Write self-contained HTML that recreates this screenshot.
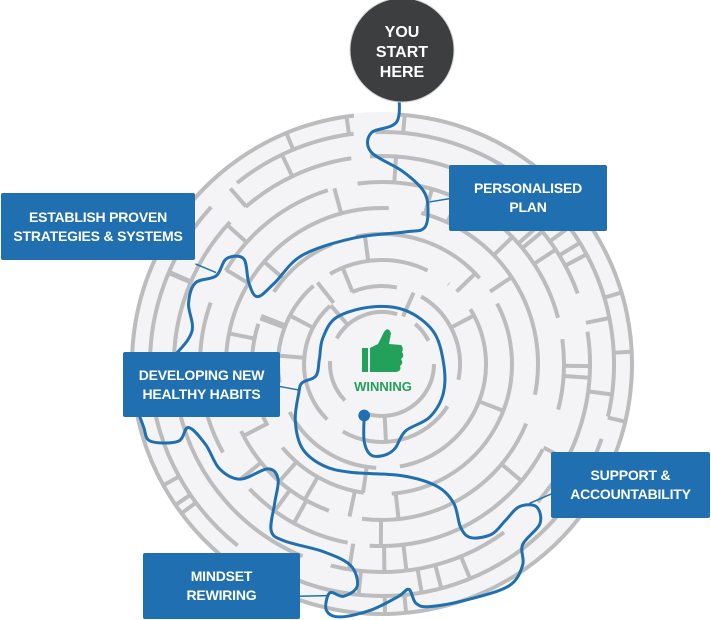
<!DOCTYPE html>
<html><head><style>
html,body{margin:0;padding:0;background:#fff;}
body{width:711px;height:620px;position:relative;overflow:hidden;font-family:"Liberation Sans",sans-serif;}
.box{position:absolute;background:#1f6fb1;color:#fff;font-weight:bold;font-size:14px;line-height:19px;text-align:center;display:flex;align-items:center;justify-content:center;border-radius:2px;letter-spacing:-0.2px;}
</style></head><body>
<svg id="s" width="711" height="620" style="position:absolute;left:0;top:0">
<circle cx="382" cy="364" r="252" fill="#f4f4f6"/>
<g id="maze" stroke="#bcbcbc" stroke-width="4" fill="none" stroke-linecap="butt"></g>
<g transform="translate(130,90) scale(0.3444)">
<path id="bp" fill="none" stroke="#1f6fb1" stroke-width="3" vector-effect="non-scaling-stroke" stroke-linejoin="round" stroke-linecap="round"/>
<circle cx="680" cy="945" r="17" fill="#1f6fb1"/>
<line x1="870" y1="325" x2="930" y2="315" stroke="#1f6fb1" stroke-width="1.5" vector-effect="non-scaling-stroke"/>
<line x1="190" y1="505" x2="250" y2="530" stroke="#1f6fb1" stroke-width="1.5" vector-effect="non-scaling-stroke"/>
<line x1="430" y1="860" x2="495" y2="872" stroke="#1f6fb1" stroke-width="1.5" vector-effect="non-scaling-stroke"/>
<line x1="1160" y1="1200" x2="1230" y2="1170" stroke="#1f6fb1" stroke-width="1.5" vector-effect="non-scaling-stroke"/>
<line x1="490" y1="1470" x2="575" y2="1468" stroke="#1f6fb1" stroke-width="1.5" vector-effect="non-scaling-stroke"/>
</g>
<circle cx="402" cy="50" r="52" fill="#3d3e40" stroke="#d0d0d0" stroke-width="1"/>
<text x="402" y="37" fill="#fff" font-weight="bold" font-size="16" text-anchor="middle" font-family="Liberation Sans">YOU</text>
<text x="402" y="57" fill="#fff" font-weight="bold" font-size="16" text-anchor="middle" font-family="Liberation Sans">START</text>
<text x="402" y="77" fill="#fff" font-weight="bold" font-size="16" text-anchor="middle" font-family="Liberation Sans">HERE</text>
<g fill="#23a05a">
<rect x="362" y="348" width="6" height="24"/>
<path d="M370 348 L378 344 L384 332 Q388 326 391 333 L389 344 L401 345 Q404 348 402 352 Q405 356 401 359 Q404 363 400 366 Q402 371 396 372 L370 372 Z"/>
</g>
<text x="383" y="391" fill="#23a05a" font-weight="bold" font-size="13" text-anchor="middle" font-family="Liberation Sans">WINNING</text>
</svg>
<div class="box" style="left:1px;top:193px;width:194px;height:67px;">ESTABLISH PROVEN<br>STRATEGIES &amp; SYSTEMS</div>
<div class="box" style="left:449px;top:165px;width:158px;height:66px;">PERSONALISED<br>PLAN</div>
<div class="box" style="left:123px;top:352px;width:157px;height:65px;">DEVELOPING NEW<br>HEALTHY HABITS</div>
<div class="box" style="left:551px;top:452px;width:159px;height:66px;">SUPPORT &amp;<br>ACCOUNTABILITY</div>
<div class="box" style="left:143px;top:553px;width:157px;height:66px;">MINDSET<br>REWIRING</div>
<script>
(function(){
var g=document.getElementById('maze'),cx=382,cy=364,ns='http://www.w3.org/2000/svg';
var seed=7;function rnd(){seed=(seed*16807)%2147483647;return seed/2147483647;}
var radii=[52,78,104,130,156,182,208,232,250];
function arc(r,a1,a2){var p=document.createElementNS(ns,'path');
var x1=cx+r*Math.cos(a1),y1=cy+r*Math.sin(a1),x2=cx+r*Math.cos(a2),y2=cy+r*Math.sin(a2);
p.setAttribute('d','M'+x1+' '+y1+' A'+r+' '+r+' 0 '+((a2-a1)>Math.PI?1:0)+' 1 '+x2+' '+y2);g.appendChild(p);}
function rad(a,r1,r2){var l=document.createElementNS(ns,'line');
l.setAttribute('x1',cx+r1*Math.cos(a));l.setAttribute('y1',cy+r1*Math.sin(a));
l.setAttribute('x2',cx+r2*Math.cos(a));l.setAttribute('y2',cy+r2*Math.sin(a));g.appendChild(l);}
radii.forEach(function(r,i){
 var a=rnd()*6.28, end=a+6.28;
 if(i==radii.length-1){arc(r,-1.5,4.6);return;}
 while(a<end){var len=0.5+rnd()*1.6, gap=18/r+rnd()*0.15; var e=Math.min(a+len,end-gap);
  if(e>a)arc(r,a,e); a=e+gap;}
 if(i<radii.length-1){var n=Math.round(r/16);for(var k=0;k<n;k++){var an=rnd()*6.28;rad(an,r,radii[i+1]);}}
});
var pts=[778,-20,776,90,700,125,700,180,790,235,850,290,865,340,855,400,800,412,650,430,500,480,420,560,370,600,345,560,330,490,280,490,250,540,190,560,170,620,180,700,130,770,60,830,20,900,40,980,60,1020,140,1020,170,980,220,1030,260,1100,320,1130,400,1100,430,1130,420,1200,410,1280,450,1310,560,1340,640,1380,660,1440,620,1470,580,1460,570,1510,610,1530,700,1510,780,1470,810,1450,830,1490,870,1500,980,1480,1100,1440,1140,1380,1140,1320,1190,1260,1180,1210,1130,1210,1090,1250,1050,1290,990,1300,960,1270,940,1200,890,1150,790,1120,640,1110,560,1090,500,1040,480,960,490,880,500,850,540,830,550,780,560,720,600,660,700,630,800,640,880,700,910,790,910,880,870,950,800,990,770,1040,740,1060,700,1060,680,1020,680,945];
var P=[];for(var i=0;i<pts.length;i+=2)P.push([pts[i],pts[i+1]]);
var d='M'+P[0][0]+' '+P[0][1];
for(var i=0;i<P.length-1;i++){var p0=P[Math.max(i-1,0)],p1=P[i],p2=P[i+1],p3=P[Math.min(i+2,P.length-1)];
d+=' C'+(p1[0]+(p2[0]-p0[0])/6)+' '+(p1[1]+(p2[1]-p0[1])/6)+' '+(p2[0]-(p3[0]-p1[0])/6)+' '+(p2[1]-(p3[1]-p1[1])/6)+' '+p2[0]+' '+p2[1];}
document.getElementById('bp').setAttribute('d',d);
})();
</script>
</body></html>
